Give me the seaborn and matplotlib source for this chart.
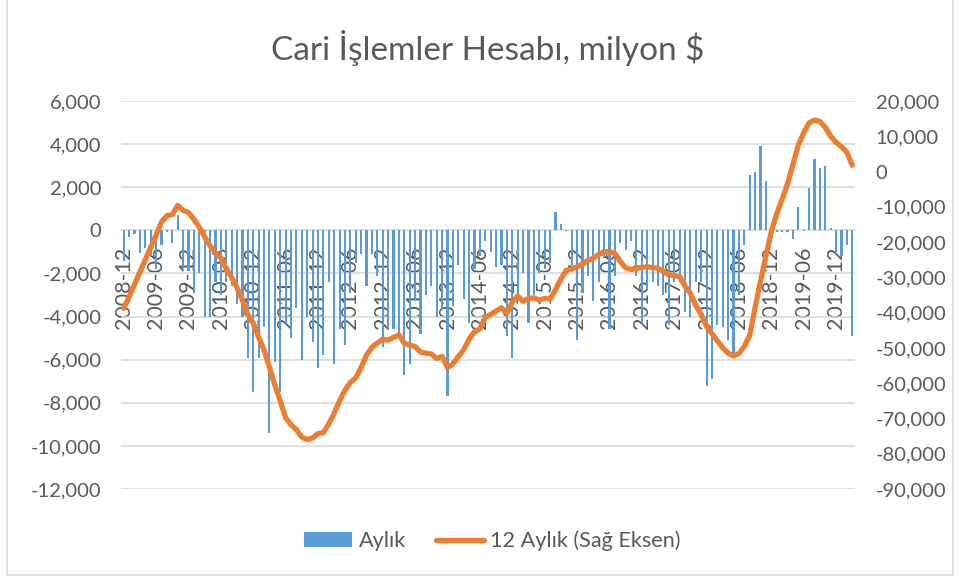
import matplotlib
matplotlib.use("Agg")
import matplotlib.pyplot as plt
import seaborn as sns
import pandas as pd
import numpy as np
from matplotlib.patches import Rectangle
from matplotlib.lines import Line2D

# ---- data ----
months = pd.period_range("2008-12", "2020-03", freq="M").strftime("%Y-%m").tolist()

monthly = [
    -1400, -300, -150, -1050, -800, -1200, -1800, -700, -100, -600,
    700, -1800, -1900, -2900, -2000, -4000, -4000, -2400, -3000, -2400,
    -2600, -3400, -4000, -5900, -7500, -5900, -4500, -9400, -6100, -7500,
    -4300, -5000, -3600, -6000, -4000, -5200, -6400, -5800, -2400, -6200,
    -4600, -5300, -2900, -1500, -1100, -2600, -1100, -2100, -5400, -4600,
    -4600, -4800, -6700, -6200, -3300, -4800, -3000, -2600, -4000, -3700,
    -7700, -3500, -1600, -3200, -4300, -1800, -1200, -500, -1000, -1700,
    -1600, -4900, -5900, -3300, -2000, -4300, -3000, -2000, -1800, -1500,
    860, 300, -50, -1600, -5100, -2900, -2100, -3300, -2400, -1300,
    -4600, -2100, -600, -900, -500, -2100, -4300, -2700, -2400, -2600,
    -3000, -4400, -2400, -2400, -3800, -4000, -2400, -2400, -7200, -6900,
    -4400, -4500, -5100, -5700, -3000, -700, 2580, 2700, 3900, 2300,
    200, -100, -100, -100, -400, 1100, -50, 1950, 3300, 2900,
    3000, 100, -1000, -1200, -700, -4900,
]

rolling12 = [
    -38800, -35500, -32000, -28500, -25000, -21500, -18000, -14300, -12500, -12200,
    -9600, -11000, -11600, -13500, -15800, -18500, -21000, -23000, -24500, -27500,
    -30000, -33000, -36500, -40500, -43000, -47000, -50500, -55500, -60500, -65000,
    -69800, -71800, -73200, -75300, -76000, -75500, -74300, -74000, -71500, -68500,
    -65000, -62000, -59800, -58500, -55500, -52000, -49800, -48600, -47500, -47800,
    -47000, -46300, -48700, -49200, -49600, -51200, -51500, -51700, -53000, -52400,
    -55600, -54500, -52500, -50500, -47500, -45400, -44600, -41300, -40500, -39500,
    -38600, -40200, -37000, -35300, -36800, -36000, -35800, -36400, -36000, -36100,
    -33500, -30500, -28000, -27600, -27000, -26200, -25200, -24600, -23500, -22700,
    -22800, -23200, -25500, -27300, -27800, -27400, -27200, -27000, -27200, -27400,
    -28300, -29300, -29500, -29800, -32500, -34500, -38000, -40500, -44000, -46000,
    -48000, -50000, -51500, -52300, -51600, -49500, -46400, -38500, -31000, -24000,
    -17000, -12000, -7800, -3500, 2000, 7500, 11000, 13800, 14600, 14200,
    12500, 10000, 8300, 7000, 5500, 1800,
]

left_ticks = [-12000, -10000, -8000, -6000, -4000, -2000, 0, 2000, 4000, 6000]
right_ticks = [-90000, -80000, -70000, -60000, -50000, -40000, -30000, -20000, -10000, 0, 10000, 20000]

title = "Cari İşlemler Hesabı, milyon $"
bar_label = "Aylık"
line_label = "12 Aylık (Sağ Eksen)"

BLUE = "#5B9BD5"
ORANGE = "#ED7D31"
TXT = "#595959"
GRID = "#D9D9D9"

sns.set_style("white")
plt.rcParams["font.family"] = ["Lato", "DejaVu Sans"]

df = pd.DataFrame({"month": months, "monthly": monthly, "rolling": rolling12,
                   "pos": np.arange(len(months))})

fig = plt.figure(figsize=(9.6, 5.78), dpi=100)
ax = fig.add_axes([121/960, 1-489/578, (855-121)/960, (489-101)/578])

sns.barplot(data=df, x="month", y="monthly", ax=ax, color=BLUE, width=0.4,
            saturation=1, linewidth=0, zorder=2)
ax.set_xlim(-0.5, len(months)-0.5)
ax.set_ylim(-12000, 6000)
ax.set_yticks(left_ticks)
ax.set_yticklabels([f"{v:,}" for v in left_ticks])
ax.yaxis.grid(True, color=GRID, linewidth=1.2, zorder=0)
ax.set_axisbelow(True)
for s in ax.spines.values():
    s.set_visible(False)
ax.spines["bottom"].set_position(("data", 0))
tick_idx = list(range(0, len(months), 6))
ax.set_xticks(tick_idx)
ax.set_xticklabels([months[i] for i in tick_idx], rotation=90, va="top", ha="center")
ax.tick_params(axis="x", length=0, pad=12, labelsize=15.5, colors=TXT)
ax.tick_params(axis="y", length=0, pad=14, labelsize=14.5, colors=TXT)
ax.set_xlabel("")
ax.set_ylabel("")

ax2 = ax.twinx()
sns.lineplot(data=df, x="pos", y="rolling", ax=ax2, color=ORANGE, linewidth=3.8,
             solid_capstyle="round", solid_joinstyle="round")
ax2.set_ylim(-90000, 20000)
ax2.set_yticks(right_ticks)
ax2.set_yticklabels([f"{v:,}" for v in right_ticks])
ax2.tick_params(axis="y", length=0, pad=15, labelsize=14.5, colors=TXT)
ax2.set_xlim(-0.5, len(months)-0.5)
ax2.set_ylabel("")
ax2.set_xlabel("")
ax2.grid(False)
for s in ax2.spines.values():
    s.set_visible(False)

fig.text(0.508, 1-48/578, title, ha="center", va="center", fontsize=24, color=TXT)

handles = [Rectangle((0, 0), 1, 1, facecolor=BLUE, edgecolor="none"),
           Line2D([0], [0], color=ORANGE, linewidth=3.8)]
fig.legend(handles, [bar_label, line_label], loc="center", bbox_to_anchor=(0.513, 1-541/578),
           ncol=2, frameon=False, fontsize=15.6, handlelength=2.2, handleheight=0.7,
           handletextpad=0.3, columnspacing=1.4, labelcolor=TXT)

fig.patches.append(Rectangle((7/960, 3/578), 1-14/960, 1.2, transform=fig.transFigure,
                             fill=False, edgecolor="#D9D9D9", linewidth=1.2))

fig.savefig("out.png", dpi=100)
